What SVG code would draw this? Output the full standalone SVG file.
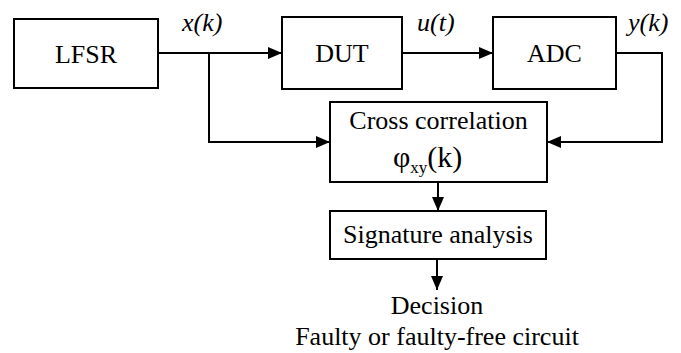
<svg xmlns="http://www.w3.org/2000/svg" width="681" height="353" viewBox="0 0 681 353">
  <defs>
    <marker id="arrow" markerWidth="14" markerHeight="12" refX="14" refY="6" orient="auto" markerUnits="userSpaceOnUse">
      <path d="M0,0 L14,6 L0,12 Z" fill="#000"/>
    </marker>
  </defs>

  <g id="connectors" fill="none" stroke="#000" stroke-width="2">
    <path d="M158,53 H282" marker-end="url(#arrow)"/>
    <path d="M209,53 V142 H330" marker-end="url(#arrow)"/>
    <path d="M402,53 H493" marker-end="url(#arrow)"/>
    <path d="M616,53 H662 V142 H547" marker-end="url(#arrow)"/>
    <path d="M438,182 V211" marker-end="url(#arrow)"/>
    <path d="M437,259 V290" marker-end="url(#arrow)"/>
  </g>

  <g id="signals">
    <text x="182" y="31" font-family="Liberation Serif, Times New Roman, serif" font-size="26" font-style="italic">x(k)</text>
    <text x="417" y="31" font-family="Liberation Serif, Times New Roman, serif" font-size="26" font-style="italic">u(t)</text>
    <text x="628" y="31" font-family="Liberation Serif, Times New Roman, serif" font-size="26" font-style="italic">y(k)</text>
  </g>

  <g id="lfsr">
    <rect x="14" y="19" width="144" height="69" fill="#fff" stroke="#000" stroke-width="2"/>
    <text x="86" y="63" text-anchor="middle" font-family="Liberation Serif, Times New Roman, serif" font-size="26">LFSR</text>
  </g>

  <g id="dut">
    <rect x="282" y="17" width="120" height="72" fill="#fff" stroke="#000" stroke-width="2"/>
    <text x="342" y="62" text-anchor="middle" font-family="Liberation Serif, Times New Roman, serif" font-size="26">DUT</text>
  </g>

  <g id="adc">
    <rect x="493" y="17" width="123" height="72" fill="#fff" stroke="#000" stroke-width="2"/>
    <text x="554.500" y="62" text-anchor="middle" font-family="Liberation Serif, Times New Roman, serif" font-size="26">ADC</text>
  </g>

  <g id="cross-correlation">
    <rect x="330" y="102" width="217" height="80" fill="#fff" stroke="#000" stroke-width="2"/>
    <text x="438.500" y="129" text-anchor="middle" font-family="Liberation Serif, Times New Roman, serif" font-size="26">Cross correlation</text>
    <text x="393" y="167" font-family="Liberation Serif, Times New Roman, serif" font-size="30">φ<tspan dy="6" font-size="17">xy</tspan><tspan dy="-6">(k)</tspan></text>
  </g>

  <g id="signature-analysis">
    <rect x="330" y="211" width="216" height="48" fill="#fff" stroke="#000" stroke-width="2"/>
    <text x="438" y="243" text-anchor="middle" font-family="Liberation Serif, Times New Roman, serif" font-size="26">Signature analysis</text>
  </g>

  <g id="decision">
    <text x="437" y="314" text-anchor="middle" font-family="Liberation Serif, Times New Roman, serif" font-size="26">Decision</text>
    <text x="437" y="345" text-anchor="middle" font-family="Liberation Serif, Times New Roman, serif" font-size="26">Faulty or faulty-free circuit</text>
  </g>
</svg>
